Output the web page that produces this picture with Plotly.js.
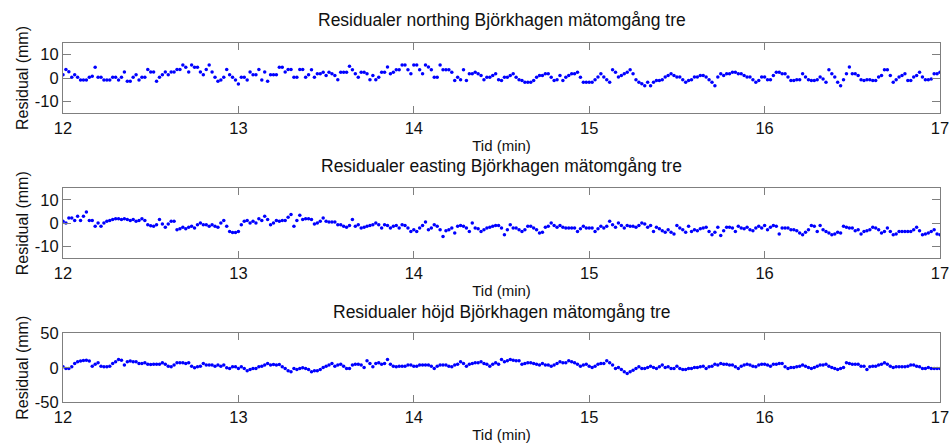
<!DOCTYPE html>
<html>
<head>
<meta charset="utf-8">
<script src="https://cdn.plot.ly/plotly-3.0.1.min.js"></script>
<style>html,body{margin:0;padding:0;background:#fff;}#chart{width:949px;height:443px;}</style>
</head>
<body>
<div id="chart"></div>
<script>
// Sampling: start minute and samples per minute (1 Hz)
const startMin = 12;
const samplesPerMin = 60;

const xTickVals = [12, 13, 14, 15, 16, 17];
const xTickText = ["12", "13", "14", "15", "16", "17"];

const titles = [
  "Residualer northing Björkhagen mätomgång tre",
  "Residualer easting Björkhagen mätomgång tre",
  "Residualer höjd Björkhagen mätomgång tre"
];
const xTitle = "Tid (min)";
const yTitle = "Residual (mm)";

// Northing residuals (mm), minute by minute
const north12 = [1.4, 3.6, 2.7, 0.3, 1.4, 0.3, -0.9, -0.9, -0.9, 0.3, 0.8, 4.6, 0.3, 0.3, -0.9, -0.9, -0.9, 0.3, 0.3, -0.9, 0.3, 2.6, -1.4, -1.4, 0.3, 1.4, -0.9, 0.3, 0.3, 3.6, 2.6, 2.6, -1.4, 0.3, 1.4, 2.6, 1.4, 2.6, 2.6, 3.6, 3.6, 5.6, 4.6, 2.6, 5.6, 4.6, 4.6, 2.6, 1.4, 3.6, 5.6, 2.6, 0.3, -1.4, -0.9, 0.3, 3.6, 1.4, 0.3, -0.9];
const north13 = [-2.6, 0.3, 0.3, -0.9, 2.6, 1.4, 1.4, 3.6, -0.9, 2.6, -1.4, 1.4, 1.4, 1.4, 4.6, 4.6, 2.6, 3.6, 3.6, 0.3, 0.3, 3.6, 3.6, 0.3, 1.4, 3.5, 0.3, 1.8, 1.8, 2.5, 1.1, 2.5, 1.8, 1.1, -0.8, 2.5, 2.5, 2.5, 5.0, 3.5, 1.8, 0.3, 2.5, 2.5, 1.8, -0.8, 1.1, -0.8, 0.3, 2.5, 2.5, 4.7, 1.8, 2.5, 3.5, 3.5, 5.6, 5.6, 3.5, 1.8];
const north14 = [5.6, 5.6, 3.5, 1.8, 5.6, 4.7, 3.5, 0.3, 0.3, 5.6, 3.5, 3.5, 3.5, 2.5, -1.1, 0.3, -0.8, 3.5, -1.1, 1.8, 1.8, 2.5, 1.8, 1.1, -0.8, 0.3, 0.3, 1.1, 1.8, -0.8, -1.1, 0.3, 0.3, 1.1, 1.8, 0.3, -0.8, -1.1, -1.8, -1.8, -1.8, -1.1, 0.3, 1.1, 1.1, 1.8, 1.8, 0.3, -1.1, -0.8, 1.1, -1.1, 0.3, 1.1, 1.8, 1.8, 2.5, 0.3, -1.8, -1.8];
const north15 = [-1.8, -1.8, -0.8, 0.4, 1.8, 0.4, -0.8, -1.8, 3.5, 2.5, 0.4, 1.1, 1.8, 2.5, 3.5, 1.8, -0.8, -1.8, -2.5, -3.3, -1.8, -3.3, -1.8, -1.1, -1.1, -0.8, 0.4, 1.1, 1.8, 1.1, 0.4, 0.4, -0.8, -1.8, -1.1, -0.8, 0.4, 0.4, 1.1, 1.1, 0.4, -0.8, -1.8, -3.3, 0.4, 1.8, 1.1, 1.8, 1.8, 2.5, 2.5, 1.8, 1.8, 1.1, 0.4, 0.4, -0.8, -1.8, -1.1, 0.4];
const north16 = [0.4, -0.8, -0.8, 1.1, 2.5, 2.5, 1.8, 1.8, 0.4, -1.1, -1.1, -0.8, -0.8, 1.8, 0.4, -0.8, -1.1, -1.1, -0.8, 0.4, -0.4, -1.8, 3.5, 1.8, 0.4, -1.8, -3.3, -0.8, 1.8, 4.7, 1.8, 1.8, 1.1, -0.8, -1.1, -0.8, -0.8, -1.1, -1.1, 0.4, 1.1, 3.5, 3.5, 1.1, -1.8, -0.8, 0.4, 1.1, 1.8, -1.1, -1.1, 0.4, 1.1, 2.5, 0.4, -0.8, -0.8, -0.4, 1.8, 1.8, 2.5];

// Easting residuals (mm)
const east12 = [0.9, 0.1, 2.3, 2.3, 1.2, 3.0, 1.2, 3.0, 4.8, 1.2, 1.2, -1.3, 0.1, -1.3, 0.1, 0.9, 1.2, 1.6, 2.0, 2.0, 1.6, 2.0, 1.6, 1.2, 1.6, 0.9, 1.2, 2.0, 1.2, -0.6, -1.0, -1.3, -0.6, 1.6, -0.3, -1.7, -0.3, 0.9, 0.9, -2.8, -2.3, -1.7, -2.3, -1.7, -1.3, -2.0, -0.6, 0.1, -0.6, -0.6, -1.3, -0.6, -1.3, -1.7, 0.1, 1.2, -1.3, -3.5, -3.9, -3.9];
const east13 = [-3.5, -0.6, 0.9, 1.2, 0.1, 0.9, 0.1, 2.0, 1.2, 3.0, 1.6, -0.6, 0.1, 1.2, 0.9, 1.2, 1.2, 2.6, 3.8, -1.3, 1.2, 3.5, 1.6, 2.0, 2.0, 1.6, -0.3, 0.1, 0.9, 2.3, 0.9, 0.6, 0.6, 0.6, -0.6, -0.6, -1.3, -1.7, -0.9, 1.6, -1.3, -0.6, -2.0, -1.7, -1.3, -0.9, -0.6, 0.1, -0.6, -2.0, -0.6, -0.9, -2.0, -1.3, -0.9, -2.0, -0.6, -0.9, -2.0, -3.5];
const east14 = [-2.8, -3.5, -2.0, -0.9, 0.6, -2.8, -2.0, -0.6, -1.3, -2.8, -5.7, -3.2, -2.8, -2.0, -4.2, -1.3, -0.9, -1.3, -2.0, -3.5, 0.1, -2.0, -2.3, -3.5, -2.8, -2.0, -1.7, -1.3, -0.9, -0.9, -2.0, -4.9, -2.8, -0.6, -2.0, -2.0, -2.8, -3.5, -2.8, -1.3, -1.3, -2.0, -2.8, -4.2, -3.8, -1.7, -1.3, 0.1, -0.9, -1.7, -0.9, -1.7, -2.0, -2.0, -2.0, -2.0, -3.5, -2.3, -1.3, -2.0];
const east15 = [-2.0, -2.0, -3.5, -2.3, -1.3, -2.0, -1.3, 0.9, -0.6, -1.7, 0.1, -0.9, -2.0, -0.9, -1.3, -1.3, -1.7, -0.9, 0.1, -0.3, -1.7, -0.9, -3.5, -1.7, -2.3, -3.2, -3.8, -2.8, -3.8, -4.6, -0.9, -2.0, -2.8, -3.8, -1.3, -3.5, -2.8, -3.2, -2.3, -2.0, -1.7, -3.5, -4.9, -3.8, -1.7, -5.2, -3.2, -1.7, -1.7, -2.0, -3.5, -1.3, -2.0, -2.3, -1.7, -2.8, -3.2, -2.0, -1.3, -2.0];
const east16 = [-0.9, -2.8, -1.7, -0.9, -1.3, -4.6, -2.0, -2.0, -2.0, -2.8, -2.8, -3.2, -4.2, -4.9, -3.8, -2.8, -0.9, -1.3, -3.5, -0.9, -2.8, -3.5, -4.2, -4.9, -4.6, -3.8, -4.2, -1.3, -1.7, -2.0, -2.0, -3.2, -2.8, -4.6, -3.5, -3.2, -2.8, -1.7, -2.0, -2.8, -4.2, -3.5, -2.0, -3.5, -4.9, -4.6, -3.5, -3.5, -3.5, -3.5, -3.5, -2.8, -1.7, -3.2, -4.9, -4.6, -4.2, -3.5, -2.8, -4.6, -4.9];

// Height residuals (mm)
const hojd12 = [1.4, -1.0, -1.0, 1.4, 6.3, 8.7, 9.7, 10.5, 11.1, 9.7, 2.4, 5.3, 7.2, 2.4, 1.4, 1.4, 2.4, 6.3, 8.7, 12.1, 11.1, 3.9, 8.7, 9.7, 8.7, 8.7, 6.3, 6.3, 7.2, 5.3, 4.8, 5.3, 5.3, 5.3, 7.2, 5.3, 2.4, 1.4, 3.9, 7.2, 7.2, 7.2, 6.3, 7.2, 2.4, 0, 1.4, 2.4, 6.3, 3.9, 3.9, 3.9, 2.4, 3.9, 2.4, 3.9, 0, -1.0, 1.4, 1.4];
const hojd13 = [-1.0, 1.4, -1.0, -4.3, -2.4, -1.0, -1.0, 1.4, 2.4, 3.9, 6.3, 3.9, 4.8, 3.9, 4.8, 1.4, -1.0, -4.3, -5.8, -1.0, -2.4, -1.0, 0, -1.0, -2.4, -5.8, -4.3, -4.3, -2.4, 0.5, 2.4, 3.9, 6.3, 2.4, 3.9, 5.3, 2.4, -1.0, -1.0, 3.9, 5.3, 5.3, 3.9, 0.5, 10.1, 6.3, 1.4, 6.3, 7.2, 5.3, 6.3, 12.1, 5.3, 2.4, 1.4, 2.4, 2.4, 2.4, 3.9, 3.9];
const hojd14 = [2.4, 2.4, 3.9, 3.9, 3.9, 3.9, 2.4, -1.0, 2.4, 3.9, 3.9, 3.9, 2.4, 1.4, 3.9, 5.3, 8.7, 6.3, 2.4, 5.3, 6.3, 7.2, 7.2, 8.7, 6.3, 5.3, 2.4, 5.3, 7.2, 5.3, 12.1, 8.7, 10.1, 12.1, 11.1, 10.1, 10.1, 5.3, 6.3, 7.2, 7.2, 6.3, 5.3, 3.9, 6.3, 3.9, 3.9, 2.4, 3.9, 6.3, 8.7, 7.2, 7.2, 10.1, 8.7, 7.2, 5.3, 2.4, 3.9, 5.3];
const hojd15 = [2.4, 0.5, 2.4, 5.3, 6.3, 6.3, 10.1, 7.2, 3.9, -1.0, 0.5, -2.4, -5.8, -8.2, -5.8, -3.4, -1.0, 1.4, -1.0, -1.0, 0.5, 2.4, 0.5, -1.0, 1.4, 3.9, 0.5, 1.4, -1.0, -1.0, 2.4, -1.0, -2.4, -2.4, -1.0, -1.0, 0.5, 0.5, 1.4, 2.4, -1.0, 1.4, 2.4, 5.3, 3.9, 6.3, 5.3, 5.3, 3.9, 3.9, 1.4, -1.0, 2.4, 3.9, 5.3, 3.9, 2.4, 1.4, 3.9, 5.3];
const hojd16 = [5.3, 3.9, 2.4, 5.3, 5.3, 6.3, 6.3, 1.4, -1.0, 0.5, 0.5, 1.4, 2.4, 3.9, 2.4, 0.5, -1.0, 0.5, 2.4, 3.9, 3.9, 5.3, 2.4, 0.5, -1.0, -2.4, -1.0, 0.5, 7.2, 6.3, 5.3, 5.3, 5.3, 2.4, 2.4, -2.4, 1.4, 2.4, 2.4, 3.9, 5.3, 7.2, 5.3, 2.4, 0.5, 1.4, 1.4, 1.4, 1.4, 2.4, 3.9, 3.9, 2.4, 1.4, -1.0, -1.0, 0.5, -1.0, -1.0, -1.0, -1.0];

const northing = [].concat(north12, north13, north14, north15, north16);
const easting = [].concat(east12, east13, east14, east15, east16);
const hojd = [].concat(hojd12, hojd13, hojd14, hojd15, hojd16);

function timeAxis(n) {
  const t = [];
  for (let i = 0; i < n; i++) t.push(startMin + i / samplesPerMin);
  return t;
}

const marker = {color: '#0000ff', size: 3.5, symbol: 'circle'};
const traces = [
  {x: timeAxis(northing.length), y: northing, xaxis: 'x', yaxis: 'y', mode: 'markers', type: 'scatter', marker: marker, hoverinfo: 'x+y'},
  {x: timeAxis(easting.length), y: easting, xaxis: 'x2', yaxis: 'y2', mode: 'markers', type: 'scatter', marker: marker, hoverinfo: 'x+y'},
  {x: timeAxis(hojd.length), y: hojd, xaxis: 'x3', yaxis: 'y3', mode: 'markers', type: 'scatter', marker: marker, hoverinfo: 'x+y'}
];

const W = 949, H = 443;
const left = 63, right = 940;
const frames = [[43, 113], [188.3, 258.3], [333.3, 402.3]];
const FONT = 'Arial, "Liberation Sans", Helvetica, sans-serif';
const lineCol = '#7f7f7f';
const txtCol = '#111111';

function xa(anchor) {
  return {
    anchor: anchor, domain: [left / W, right / W], range: [12, 17],
    tickmode: 'array', tickvals: xTickVals, ticktext: xTickText,
    ticks: 'inside', ticklen: 7, tickcolor: lineCol, tickwidth: 1,
    showline: true, linecolor: lineCol, linewidth: 1, mirror: 'ticks',
    showgrid: false, zeroline: false, ticklabeloverflow: 'allow',
    tickfont: {family: FONT, size: 16.5, color: txtCol},
    title: {text: xTitle, font: {family: FONT, size: 15, color: txtCol}, standoff: 4},
    automargin: false
  };
}
function ya(anchor, dom, rng, tv) {
  return {
    anchor: anchor, domain: dom, range: rng,
    tickmode: 'array', tickvals: tv, ticktext: tv.map(String),
    ticks: 'inside', ticklen: 8, tickcolor: lineCol, tickwidth: 1,
    showline: true, linecolor: lineCol, linewidth: 1, mirror: 'ticks',
    showgrid: false, zeroline: false, ticklabeloverflow: 'allow',
    tickfont: {family: FONT, size: 16.5, color: txtCol},
    title: {text: yTitle, font: {family: FONT, size: 16, color: txtCol}, standoff: 2},
    automargin: false
  };
}
const doms = frames.map(f => [1 - f[1] / H, 1 - f[0] / H]);

const titleY = [20, 166, 312];
const annotations = titles.map((t, i) => ({
  text: t, xref: 'paper', yref: 'paper', x: (left + right) / 2 / W, y: 1 - titleY[i] / H,
  xanchor: 'center', yanchor: 'middle', showarrow: false,
  font: {family: FONT, size: 17.5, color: txtCol}
}));

const layout = {
  width: W, height: H,
  margin: {l: 0, r: 0, t: 0, b: 0, pad: 0},
  paper_bgcolor: '#ffffff', plot_bgcolor: '#ffffff',
  showlegend: false,
  xaxis: xa('y'),
  yaxis: ya('x', doms[0], [-15, 15], [-10, 0, 10]),
  xaxis2: xa('y2'),
  yaxis2: ya('x2', doms[1], [-15, 15], [-10, 0, 10]),
  xaxis3: xa('y3'),
  yaxis3: ya('x3', doms[2], [-50, 50], [-50, 0, 50]),
  annotations: annotations
};

Plotly.newPlot('chart', traces, layout, {displayModeBar: false});
</script>
</body>
</html>
